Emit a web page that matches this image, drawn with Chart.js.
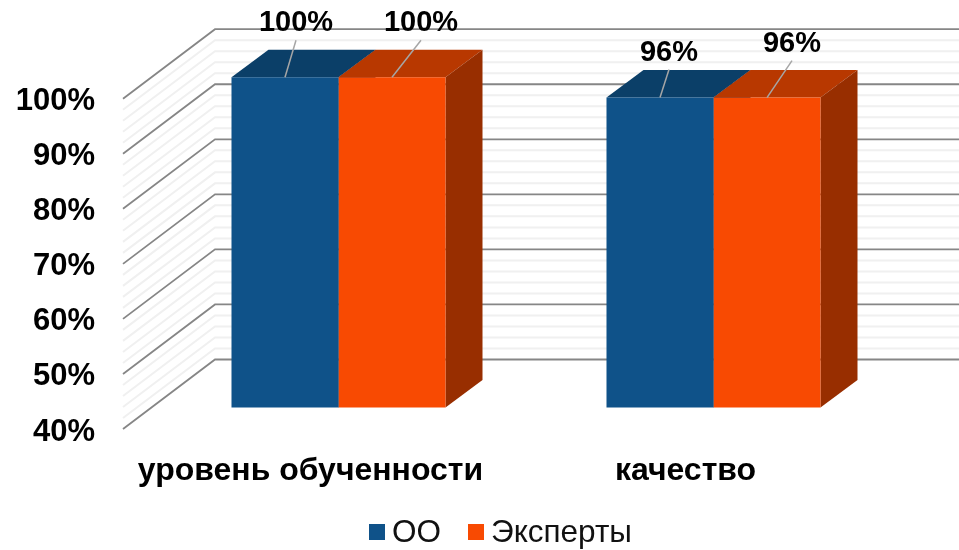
<!DOCTYPE html>
<html>
<head>
<meta charset="utf-8">
<title>chart</title>
<style>
html, body { margin: 0; padding: 0; background: #fff; }
canvas { display: block; }
</style>
<script src="https://cdn.jsdelivr.net/npm/chart.js@4"></script>
</head>
<body>
<canvas id="myChart" width="959" height="550"></canvas>
<script>
var categories = ['уровень обученности', 'качество'];
var seriesNames = ['ОО', 'Эксперты'];
var ooValues = [100, 96.3];
var expertValues = [100, 96.3];

var frontColors = ['#0f5289', '#f84a02'];
var topColors = ['#0b3f68', '#b83800'];
var sideColors = ['#0b3f68', '#982e00'];

// pseudo 3d: how far the back wall and the bars sit from the front plane
var wallDepth = { x: 92, y: -69.5 };
var barShift = { x: 28, y: -21.5 };
var barDepth = { x: 37, y: -27.5 };

// leader line ends, relative to the middle of the bar's top edge
var leaderEnds = [
    [{ x: 11, y: -37 }, { x: 29, y: -37 }],
    [{ x: 9, y: -28 }, { x: 25, y: -37 }]
];

var fontName = '"Liberation Sans", Arial, sans-serif';

var wallsPlugin = {
    id: 'walls',
    beforeDatasetsDraw: function(chart) {
        var ctx = chart.ctx;
        var yScale = chart.scales.y;
        var left = chart.chartArea.left;
        ctx.save();
        // minor lines first, every 2%, then the major ones over them
        [false, true].forEach(function(major) {
            ctx.strokeStyle = major ? '#868686' : '#f0f0f0';
            ctx.lineWidth = major ? 1.8 : 2;
            for (var v = yScale.min; v <= yScale.max; v += 2) {
                if ((v % 10 === 0) !== major) continue;
                var y = yScale.getPixelForValue(v);
                ctx.beginPath();
                ctx.moveTo(left, y);
                ctx.lineTo(left + wallDepth.x, y + wallDepth.y);
                ctx.lineTo(chart.width, y + wallDepth.y);
                ctx.stroke();
            }
        });
        ctx.restore();
    }
};

var barsPlugin = {
    id: 'bars3d',
    beforeDatasetsDraw: function(chart) {
        var ctx = chart.ctx;
        ctx.save();
        ctx.translate(barShift.x, barShift.y);
        chart.data.datasets.forEach(function(ds, d) {
            chart.getDatasetMeta(d).data.forEach(function(bar) {
                var l = bar.x - bar.width / 2;
                var r = bar.x + bar.width / 2;
                // top face
                ctx.fillStyle = topColors[d];
                ctx.beginPath();
                ctx.moveTo(l, bar.y);
                ctx.lineTo(l + barDepth.x, bar.y + barDepth.y);
                ctx.lineTo(r + barDepth.x, bar.y + barDepth.y);
                ctx.lineTo(r, bar.y);
                ctx.closePath();
                ctx.fill();
                // side face
                ctx.fillStyle = sideColors[d];
                ctx.beginPath();
                ctx.moveTo(r, bar.y);
                ctx.lineTo(r + barDepth.x, bar.y + barDepth.y);
                ctx.lineTo(r + barDepth.x, bar.base + barDepth.y);
                ctx.lineTo(r, bar.base);
                ctx.closePath();
                ctx.fill();
            });
        });
        // the bars themselves are drawn by chart.js inside this translate
    },
    afterDatasetsDraw: function(chart) {
        var ctx = chart.ctx;
        ctx.restore();
        ctx.save();
        ctx.translate(barShift.x, barShift.y);
        chart.data.datasets.forEach(function(ds, d) {
            chart.getDatasetMeta(d).data.forEach(function(bar, i) {
                var end = leaderEnds[i][d];
                ctx.strokeStyle = '#a6a6a6';
                ctx.lineWidth = 1.5;
                ctx.beginPath();
                ctx.moveTo(bar.x, bar.y);
                ctx.lineTo(bar.x + end.x, bar.y + end.y);
                ctx.stroke();
                ctx.fillStyle = '#000';
                ctx.font = 'bold 29px ' + fontName;
                ctx.textAlign = 'center';
                ctx.textBaseline = 'middle';
                ctx.fillText(Math.round(ds.data[i]) + '%', bar.x + end.x, bar.y + end.y - 17);
            });
        });
        ctx.restore();
    }
};

// chart.js keeps the text a half font size from the box, here it is much closer
var legendPlugin = {
    id: 'smallLegend',
    afterDraw: function(chart) {
        var ctx = chart.ctx;
        var x = 369;
        ctx.save();
        ctx.font = '31.5px ' + fontName;
        ctx.textAlign = 'left';
        ctx.textBaseline = 'middle';
        chart.data.datasets.forEach(function(ds) {
            ctx.fillStyle = ds.backgroundColor;
            ctx.fillRect(x, 524, 16, 16);
            ctx.fillStyle = '#111';
            ctx.fillText(ds.label, x + 23, 533);
            x += 23 + ctx.measureText(ds.label).width + 27;
        });
        ctx.restore();
    }
};

var ctx = document.getElementById('myChart').getContext('2d');
var myChart = new Chart(ctx, {
    type: 'bar',
    data: {
        labels: categories,
        datasets: [{
            label: seriesNames[0],
            data: ooValues,
            backgroundColor: frontColors[0],
            clip: false
        }, {
            label: seriesNames[1],
            data: expertValues,
            backgroundColor: frontColors[1],
            clip: false
        }]
    },
    plugins: [wallsPlugin, barsPlugin, legendPlugin],
    options: {
        responsive: false,
        animation: false,
        layout: {
            padding: { top: 98.7, right: 86, bottom: 0, left: 0 }
        },
        datasets: {
            bar: {
                categoryPercentage: 0.5707,
                barPercentage: 1,
                base: 40
            }
        },
        scales: {
            x: {
                grid: { display: false, drawTicks: false },
                border: { display: false },
                ticks: {
                    color: '#000',
                    padding: 23,
                    maxRotation: 0,
                    font: { family: fontName, size: 32, weight: 'bold' }
                },
                afterFit: function(scale) {
                    scale.height = 121;
                }
            },
            y: {
                min: 40,
                max: 100,
                grid: { display: false, drawTicks: false },
                border: { display: false },
                ticks: {
                    stepSize: 10,
                    color: '#000',
                    padding: 28,
                    labelOffset: 3,
                    font: { family: fontName, size: 31, weight: 'bold' },
                    callback: function(value) {
                        return value + '%';
                    }
                },
                afterFit: function(scale) {
                    scale.width = 123;
                }
            }
        },
        plugins: {
            legend: { display: false },
            tooltip: { enabled: false }
        }
    }
});
</script>
</body>
</html>
